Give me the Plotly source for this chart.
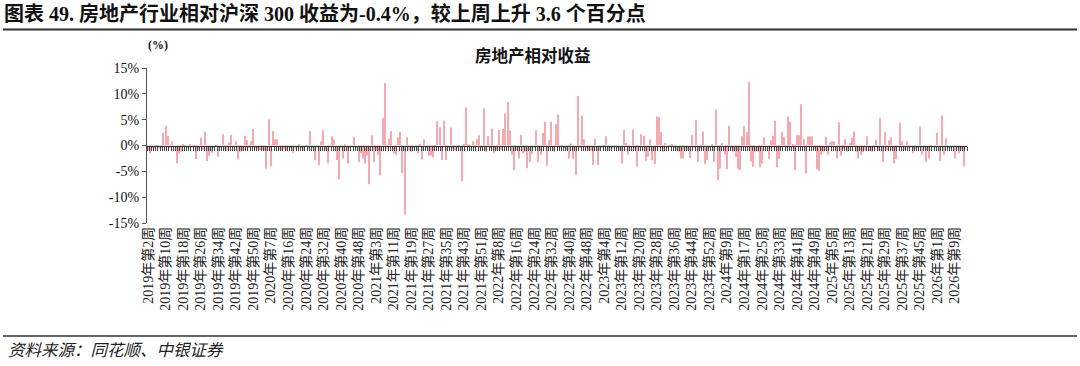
import plotly.graph_objects as go

# Weekly relative return of real-estate sector vs CSI 300 (%), 2019 W2 -> 2026
returns = [
    -1.0, -1.5, -0.6, -0.5, -0.3, -0.6, -0.4, 2.4, 3.8, 1.9,
    -0.5, 0.8, -0.4, -3.4, -1.6, -1.2, 0.3, -0.3, -0.5, 0.2,
    -0.4, -0.3, -2.6, -0.8, 1.5, -0.8, 2.7, -3.0, -2.0, -1.4,
    -0.5, -0.3, -2.2, -0.5, 2.2, -0.8, -1.0, 0.6, 2.1, -0.4,
    0.8, -2.7, -1.2, -1.1, 1.9, 1.0, -0.5, 0.8, 3.2, -0.5,
    -0.7, -0.9, -0.8, -1.0, -4.5, 5.1, -4.0, 2.8, 1.2, 1.2,
    -0.8, -0.9, -0.7, -1.0, -0.4, -0.5, -1.5, -0.6, -0.4, 0.2,
    -0.5, -1.0, -0.3, -0.6, 2.8, -0.5, -2.8, -0.4, -3.8, 0.8,
    3.0, -1.0, -3.5, -0.4, 1.8, 1.2, -2.8, -6.6, -0.6, -2.5,
    0.2, -3.5, -0.5, -0.4, 1.7, -0.5, -3.2, -1.5, -2.5, -3.5,
    -2.0, -7.5, 2.0, -3.2, -1.0, -1.8, -5.8, 5.3, 12.1, -0.6,
    1.3, 2.8, -1.5, -1.8, 1.6, 2.6, -5.3, -13.3, 1.6, -1.0,
    -1.3, -0.5, -0.4, -1.5, 0.2, -2.7, 1.2, -0.5, -2.0, -2.0,
    -2.3, -0.3, 4.7, 3.6, -2.8, 4.8, -2.8, -0.5, 3.5, -0.6,
    -1.0, -0.5, -0.3, -6.9, 0.2, 7.4, 0.2, -0.3, 0.8, -0.5,
    1.2, 2.0, -0.5, 7.2, -1.2, 1.8, -0.5, 3.3, -1.5, -1.0,
    3.0, -0.8, 3.2, 6.2, 8.4, 2.9, -1.8, -4.8, -0.8, -2.5,
    2.1, -1.5, -1.2, -4.4, -3.2, -1.6, -0.5, 3.0, -3.2, -1.8,
    2.4, 4.6, -3.9, 1.0, 4.6, -1.2, 4.1, 6.0, -0.4, -0.3,
    -0.5, -0.8, -2.5, 0.4, -2.6, -5.7, 9.6, -0.5, 5.8, 1.2,
    -0.5, -1.0, -1.0, -3.8, 1.3, -3.8, -1.0, -0.5, -0.3, 1.8,
    -1.0, -0.5, -0.6, -0.4, -0.5, -1.0, -3.5, 3.0, 0.5, -1.8,
    -0.5, 3.1, -0.6, -4.0, -0.5, 2.2, 1.9, -3.0, -2.2, 1.2,
    -2.8, -3.6, 5.6, 5.5, 2.6, -1.2, 0.5, -0.5, -0.3, 0.2,
    -0.5, -0.8, -1.2, -2.5, -2.5, -0.6, -1.0, -2.4, 2.1, -0.5,
    5.0, -3.2, -0.6, 2.7, -3.6, -2.8, -0.4, 0.2, -3.2, 7.0,
    -6.7, -4.5, 0.5, -1.8, -4.6, 3.8, -0.5, -1.2, -2.2, -4.5,
    -4.8, 1.8, 3.8, 2.6, 12.3, -3.1, -4.1, -1.3, -1.2, -4.2,
    -3.5, 1.6, -0.4, -2.6, 1.0, 1.9, 4.8, -4.2, -2.6, 2.6,
    1.7, -0.4, 5.6, 4.6, 0.2, -4.8, 2.0, 2.0, 8.0, 1.2,
    -5.4, 1.8, 1.8, 1.8, -0.6, -4.6, -4.9, -1.8, -1.2, 1.7,
    -1.8, 0.6, 0.8, 0.8, -2.5, 4.5, -2.0, -0.6, 1.2, -1.2,
    0.5, 1.5, 2.7, -1.2, -2.5, -1.8, -1.3, -1.0, 1.8, -1.0,
    -1.2, -0.5, 1.1, -1.0, 5.3, -3.2, 2.6, -1.0, 1.0, 1.6,
    -3.5, -2.6, -0.4, 4.4, 0.8, -0.8, 0.8, -0.5, -0.4, -1.5,
    -0.6, -0.5, 3.7, -1.8, -0.5, -3.2, -2.5, -0.3, -0.4, -0.5,
    2.4, -3.0, 5.8, -1.8, 1.4, -0.5, -0.5, -0.4, -2.5, -0.5,
    -1.5, -0.6, -4.0, -0.4,
]

# x tick labels (every 8th week)
tick_labels = [
    "2019年第2周", "2019年第10周", "2019年第18周", "2019年第26周", "2019年第34周",
    "2019年第42周", "2019年第50周",
    "2020年第7周", "2020年第16周", "2020年第24周", "2020年第32周", "2020年第40周",
    "2020年第48周",
    "2021年第3周", "2021年第11周", "2021年第19周", "2021年第27周", "2021年第35周",
    "2021年第43周", "2021年第51周",
    "2022年第8周", "2022年第16周", "2022年第24周", "2022年第32周", "2022年第40周",
    "2022年第48周",
    "2023年第4周", "2023年第12周", "2023年第20周", "2023年第28周", "2023年第36周",
    "2023年第44周", "2023年第52周",
    "2024年第9周", "2024年第17周", "2024年第25周", "2024年第33周", "2024年第41周",
    "2024年第49周",
    "2025年第5周", "2025年第13周", "2025年第21周", "2025年第29周", "2025年第37周",
    "2025年第45周",
    "2026年第1周", "2026年第9周",
]
label_step = 8

y_ticks = [-15, -10, -5, 0, 5, 10, 15]
y_tick_text = ["-15%", "-10%", "-5%", "0%", "5%", "10%", "15%"]
y_min, y_max = -15, 15

N = len(returns)
x = list(range(N))

W, H = 1080, 366
L, R, T, B = 147, 113, 68, 143
PW, PH = W - L - R, H - T - B


def pxx(p):
    return (p - L) / PW


def pxy(p):
    return (H - B - p) / PH


SERIF = "Liberation Serif, 'Noto Sans CJK SC', serif"
CJK = "'Noto Sans CJK SC', sans-serif"

fig = go.Figure()
fig.add_trace(go.Bar(
    x=x, y=returns, xaxis="x", yaxis="y",
    marker=dict(color="#F3ABB1", line=dict(width=0)),
    hoverinfo="skip", showlegend=False,
))
fig.add_trace(go.Scatter(
    x=[x[0], x[-1]], y=[0, 0], xaxis="x2", yaxis="y", mode="lines",
    line=dict(width=0, color="rgba(0,0,0,0)"), hoverinfo="skip", showlegend=False,
))

fig.update_layout(
    width=W, height=H,
    margin=dict(l=L, r=R, t=T, b=B, pad=0),
    paper_bgcolor="white", plot_bgcolor="white",
    bargap=0.5,
    showlegend=False,
    title=dict(
        text="<b>图表 49. 房地产行业相对沪深 300 收益为-0.4%，较上周上升 3.6 个百分点</b>",
        x=4 / W, xref="container", xanchor="left",
        y=1 - 14 / H, yref="container", yanchor="middle",
        font=dict(family=SERIF, size=20, color="#111"),
    ),
    xaxis=dict(
        range=[-0.5, N - 0.5], tickmode="array",
        tickvals=x[::label_step][:len(tick_labels)], ticktext=tick_labels,
        tickangle=-90, ticks="", showline=False, showgrid=False, zeroline=False,
        tickfont=dict(family=SERIF, size=14, color="#222"),
    ),
    xaxis2=dict(
        overlaying="x", anchor="free",
        position=(0 - y_min) / (y_max - y_min),
        range=[-0.5, N - 0.5], tickmode="linear", tick0=-0.5, dtick=1,
        ticks="outside", ticklen=4, tickwidth=1, tickcolor="#444",
        showticklabels=False, showline=True, linecolor="#333", linewidth=1,
        showgrid=False, zeroline=False, side="bottom",
    ),
    yaxis=dict(
        range=[y_min, y_max], tickmode="array", tickvals=y_ticks, ticktext=y_tick_text,
        ticks="outside", ticklen=4, tickcolor="#555", showline=True,
        linecolor="#555", linewidth=1, showgrid=False, zeroline=False,
        tickfont=dict(family=SERIF, size=14, color="#111"),
    ),
    annotations=[
        dict(text="<b>(%)</b>", x=pxx(158), y=pxy(45), xref="paper", yref="paper",
             xanchor="center", yanchor="middle",
             showarrow=False, font=dict(family=SERIF, size=12, color="#111")),
        dict(text="<b>房地产相对收益</b>", x=pxx(533), y=pxy(55), xref="paper", yref="paper",
             xanchor="center", yanchor="middle",
             showarrow=False, font=dict(family=CJK, size=16.5, color="#111")),
        dict(text="资料来源：同花顺、中银证券", x=pxx(6), y=pxy(349), xref="paper", yref="paper",
             xanchor="left", yanchor="middle", showarrow=False,
             font=dict(family=CJK, size=16.5, color="#222", style="italic")),
    ],
    shapes=[
        dict(type="line", xref="paper", yref="paper", x0=pxx(3), x1=pxx(1077),
             y0=pxy(29.5), y1=pxy(29.5), line=dict(color="#333", width=2)),
        dict(type="line", xref="paper", yref="paper", x0=pxx(3), x1=pxx(1077),
             y0=pxy(336), y1=pxy(336), line=dict(color="#333", width=1.5)),
    ],
)

fig.write_html("out.html")
